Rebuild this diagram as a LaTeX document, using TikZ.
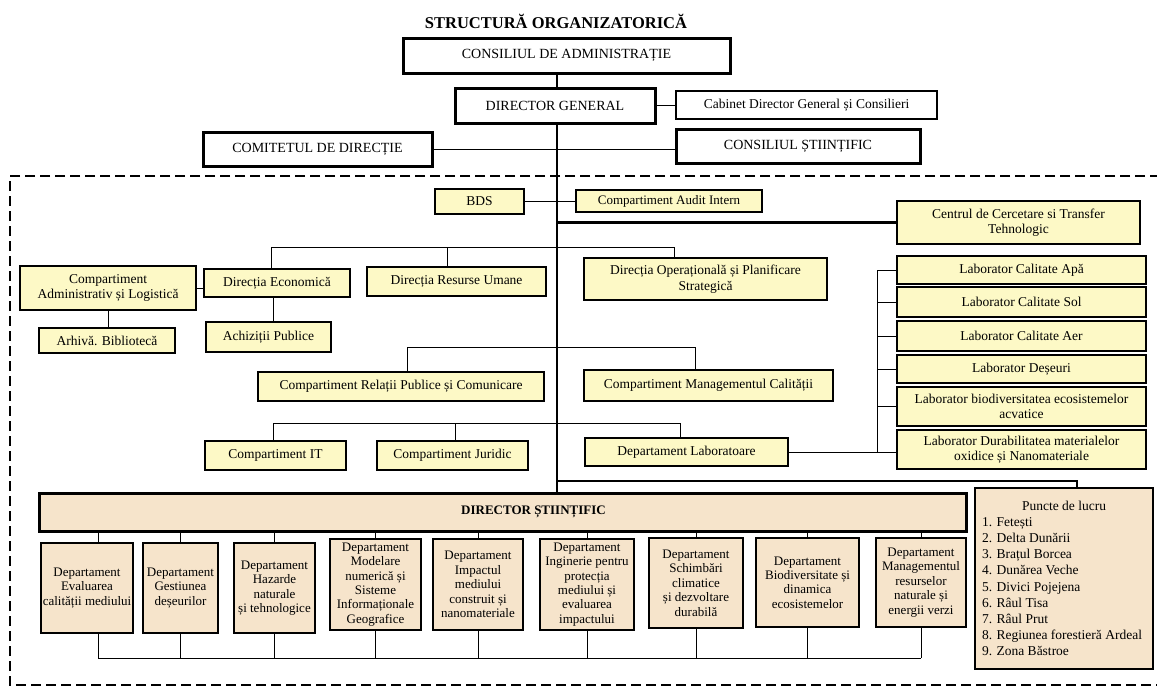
\documentclass[tikz,border=0pt]{standalone}
\usepackage{fontspec}
\setmainfont{Liberation Serif}
\newcommand\fsz[2]{\fontsize{#1}{#2}\selectfont}
\definecolor{ylw}{HTML}{FDF9C6}
\definecolor{bge}{HTML}{F6E4CB}
\newcommand\mybox[7]{\node[#1, minimum width={#5pt-#3pt}, minimum height={#6pt-#4pt}] (#2) at ({(#3+#5)/2},{(#4+#6)/2}) {#7};}
\tikzset{
 base/.style={inner sep=1pt, align=center, text=black},
 topbox/.style={base, draw, line width=3pt, fill=white, font=\fsz{14}{16}},
 thinbox/.style={base, draw, line width=1.1pt, fill=white, font=\fsz{13.5}{16}},
 ybox/.style={base, draw, line width=1.4pt, fill=ylw, font=\fsz{13.5}{15.5}},
 dbox/.style={base, draw, line width=1.4pt, fill=bge, font=\fsz{13}{14.4}},
 conn/.style={line width=1pt},
 tconn/.style={line width=2.2pt},
}
\begin{document}
\begin{tikzpicture}[x=1pt,y=-1pt]
\useasboundingbox (0,0) rectangle (1157,691);
\clip (0,0) rectangle (1157,691);
% title
\node[font=\bfseries\fsz{16.5}{18}] (title) at (556,21) {STRUCTURĂ ORGANIZATORICĂ};
% dashed frame
\draw[line width=2.6pt, dash pattern=on 10pt off 5pt] (1160,176) -- (10,176) -- (10,685) -- (1160,685);
% top
\mybox{topbox}{CA}{403}{38}{730}{73}{CONSILIUL DE ADMINISTRAȚIE}
\mybox{topbox}{DG}{455}{88}{655}{123}{DIRECTOR GENERAL}
\mybox{thinbox}{Cab}{676}{91}{937}{119}{Cabinet Director General și Consilieri}
\mybox{topbox}{Com}{203}{132}{432}{166}{COMITETUL DE DIRECȚIE}
\mybox{topbox}{CS}{676}{129}{920}{163}{CONSILIUL ȘTIINȚIFIC}
% yellow boxes
\mybox{ybox}{BDS}{435}{189}{524}{214}{BDS}
\mybox{ybox,font=\fsz{13}{15}}{Aud}{576}{190}{762}{212}{Compartiment Audit Intern}
\mybox{ybox}{Cen}{897}{201}{1140}{244}{Centrul de Cercetare si Transfer\\Tehnologic}
\mybox{ybox}{CAL}{20}{266}{196}{310}{Compartiment\\Administrativ și Logistică}
\mybox{ybox}{DirEc}{204}{269}{350}{297}{Direcția Economică}
\mybox{ybox}{RU}{367}{267}{546}{296}{Direcția Resurse Umane}
\mybox{ybox}{DirOp}{584}{258}{827}{300}{Direcția Operațională și Planificare\\Strategică}
\mybox{ybox}{Arh}{39}{328}{175}{353}{Arhivă. Bibliotecă}
\mybox{ybox}{Ach}{206}{322}{331}{352}{Achiziții Publice}
\mybox{ybox}{Rel}{258}{372}{544}{401}{Compartiment Relații Publice și Comunicare}
\mybox{ybox}{Man}{584}{370}{833}{401}{Compartiment Managementul Calității}
\mybox{ybox}{IT}{205}{441}{346}{470}{Compartiment IT}
\mybox{ybox}{Jur}{377}{441}{528}{470}{Compartiment Juridic}
\mybox{ybox}{DL}{585}{438}{788}{466}{Departament Laboratoare}
\mybox{ybox}{LA}{897}{256}{1146}{284}{Laborator Calitate Apă}
\mybox{ybox}{LS}{897}{287}{1146}{317}{Laborator Calitate Sol}
\mybox{ybox}{LAer}{897}{321}{1146}{351}{Laborator Calitate Aer}
\mybox{ybox}{LD}{897}{355}{1146}{383}{Laborator Deșeuri}
\mybox{ybox}{LB}{897}{387}{1146}{426}{Laborator biodiversitatea ecosistemelor\\acvatice}
\mybox{ybox}{LDu}{897}{430}{1146}{469}{Laborator Durabilitatea materialelor\\oxidice și Nanomateriale}
% scientific
\mybox{dbox,line width=3pt,font=\bfseries\fsz{13}{15},align=left}{DS}{39}{493}{966}{531}{\hspace*{62pt}DIRECTOR ȘTIINȚIFIC}
\mybox{dbox}{D1}{41}{543}{133}{633}{Departament\\Evaluarea\\calității mediului}
\mybox{dbox}{D2}{143}{543}{218}{633}{Departament\\Gestiunea\\deșeurilor}
\mybox{dbox}{D3}{234}{543}{315}{633}{Departament\\Hazarde\\naturale\\și tehnologice}
\mybox{dbox}{D4}{330}{539}{421}{630}{Departament\\Modelare\\numerică și\\Sisteme\\Informaționale\\Geografice}
\mybox{dbox}{D5}{433}{539}{523}{630}{Departament\\Impactul\\mediului\\construit și\\nanomateriale}
\mybox{dbox}{D6}{540}{539}{634}{630}{Departament\\Inginerie pentru\\protecția\\mediului și\\evaluarea\\impactului}
\mybox{dbox}{D7}{649}{538}{743}{628}{Departament\\Schimbări\\climatice\\și dezvoltare\\durabilă}
\mybox{dbox}{D8}{756}{538}{859}{627}{Departament\\Biodiversitate și\\dinamica\\ecosistemelor}
\mybox{dbox}{D9}{876}{538}{966}{627}{Departament\\Managementul\\resurselor\\naturale și\\energii verzi}
\mybox{dbox,align=left,font=\fsz{13.5}{16.2}}{Pct}{975}{488}{1153}{669}{\makebox[164pt][c]{Puncte de lucru}\\1. Fetești\\2. Delta Dunării\\3. Brațul Borcea\\4. Dunărea Veche\\5. Divici Pojejena\\6. Râul Tisa\\7. Râul Prut\\8. Regiunea forestieră Ardeal\\9. Zona Băstroe}
% connectors
\coordinate (t) at (557,0);
\draw[tconn] (CA.south -| t) -- (DG.north -| t);
\draw[tconn] (DG.south -| t) -- (DS.north -| t);
\draw[conn] (DG.east) -- (DG.east -| Cab.west);
\draw[conn] (Com.east) -- (Com.east -| CS.west);
\draw[conn] (BDS.east) -- (BDS.east -| Aud.west);
\draw[tconn] (Cen.west -| t) -- (Cen.west);
\coordinate (a1) at (271,247);
\coordinate (a2) at (447,247);
\coordinate (a3) at (674,247);
\draw[conn] (a1 |- DirEc.north) -- (a1) -- (a3) -- (a3 |- DirOp.north);
\draw[conn] (a2) -- (a2 |- RU.north);
\draw[conn] (CAL.east) -- (CAL.east -| DirEc.west);
\draw[conn] (CAL.south) -- (CAL.south |- Arh.north);
\coordinate (b1) at (273,0);
\draw[conn] (b1 |- DirEc.south) -- (b1 |- Ach.north);
\coordinate (c1) at (407,347);
\coordinate (c2) at (695,347);
\draw[conn] (c1 |- Rel.north) -- (c1) -- (c2) -- (c2 |- Man.north);
\coordinate (d1) at (273,423);
\coordinate (d2) at (455,423);
\coordinate (d3) at (680,423);
\draw[conn] (d1 |- IT.north) -- (d1) -- (d3) -- (d3 |- DL.north);
\draw[conn] (d2) -- (d2 |- Jur.north);
\coordinate (br) at (877,0);
\draw[conn] (DL.east) -- (DL.east -| LDu.west);
\draw[conn] (br |- LA.west) -- (br |- DL.east);
\foreach \L in {LA,LS,LAer,LD,LB} {\draw[conn] (br |- \L.west) -- (\L.west);}
\coordinate (p1) at (1077,481);
\draw[tconn] (p1 -| t) -- (p1) -- (p1 |- Pct.north);
\coordinate (e1) at (98,658);
\draw[conn] (e1 |- DS.south) -- (e1 |- D1.north);
\draw[conn] (e1 |- D1.south) -- (e1);
\foreach \D in {D2,D3,D4,D5,D6,D7,D8,D9} {
  \draw[conn] (\D.north |- DS.south) -- (\D.north);
  \draw[conn] (\D.south) -- (\D.south |- e1);
}
\draw[conn] (e1) -- (e1 -| D9.south);
\end{tikzpicture}
\end{document}
